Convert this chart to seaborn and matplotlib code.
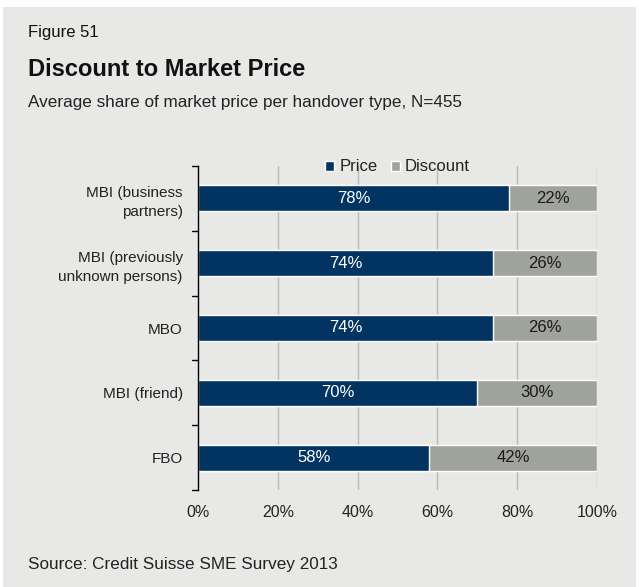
import matplotlib
matplotlib.use("Agg")
import matplotlib.pyplot as plt
import seaborn as sns
import pandas as pd
from matplotlib.patches import Rectangle, Patch

categories = ["MBI (business\npartners)", "MBI (previously\nunknown persons)", "MBO", "MBI (friend)", "FBO"]
price = [78, 74, 74, 70, 58]
discount = [22, 26, 26, 30, 42]
xticks = [0, 20, 40, 60, 80, 100]
xtick_labels = ["0%", "20%", "40%", "60%", "80%", "100%"]

NAVY = "#023461"
GREY = "#A0A39C"
BG = "#E8E9E6"

sns.set_theme(style="white")
plt.rcParams['font.family'] = ['Liberation Sans', 'DejaVu Sans']

df = pd.DataFrame({"cat": categories, "price": price, "discount": discount})
df["total"] = df["price"] + df["discount"]

fig = plt.figure(figsize=(6.39, 5.87), dpi=100)
fig.patch.set_facecolor("white")
fig.patches.append(Rectangle((3/639, 0), 633/639, 1 - 7/587, transform=fig.transFigure,
                             facecolor=BG, edgecolor="none", zorder=-10))

ax = fig.add_axes([198/639, 1 - 490/587, (597-198)/639, (490-166)/587])
ax.set_facecolor(BG)
ax.patch.set_alpha(0)

sns.barplot(data=df, y="cat", x="total", color=GREY, orient="h", width=0.4,
            ax=ax, saturation=1, zorder=3)
sns.barplot(data=df, y="cat", x="price", color=NAVY, orient="h", width=0.4,
            ax=ax, saturation=1, zorder=4)

for i, (p, d) in enumerate(zip(price, discount)):
    ax.text(p / 2, i, f"{p}%", ha="center", va="center", color="white", fontsize=12, zorder=5)
    ax.text(p + d / 2, i, f"{d}%", ha="center", va="center", color="#1a1a1a", fontsize=12, zorder=5)

ax.set_xlim(0, 100)
ax.set_ylim(4.5, -0.5)
ax.set_xticks(xticks)
ax.set_xticklabels(xtick_labels, fontsize=11.5, color="#222222")
ax.set_yticks(range(len(categories)))
ax.set_yticklabels(categories, fontsize=11, color="#222222", ha="right", multialignment="right",
                   linespacing=1.5)
ax.set_xlabel("")
ax.set_ylabel("")
ax.tick_params(axis="y", length=0, pad=11)
ax.tick_params(axis="x", length=0, pad=11)

# boundary tick marks on the y axis
for b in [-0.5, 0.5, 1.5, 2.5, 3.5, 4.5]:
    ax.plot([-1.5, 0], [b, b], color="black", lw=1, clip_on=False, zorder=6)

for x in xticks[1:]:
    ax.axvline(x, color="#B8BAB6", lw=1, zorder=1)

for s in ["top", "right", "bottom"]:
    ax.spines[s].set_visible(False)
ax.spines["left"].set_color("black")
ax.spines["left"].set_linewidth(1)
ax.spines["left"].set_zorder(6)

handles = [Patch(facecolor=NAVY, label="Price"), Patch(facecolor=GREY, label="Discount")]
leg = ax.legend(handles=handles, loc="center", bbox_to_anchor=(0.5, 0.997), ncol=2, frameon=False,
                fontsize=12, handlelength=0.55, handleheight=0.55, handletextpad=0.3, columnspacing=0.8,
                borderaxespad=0)
for t in leg.get_texts():
    t.set_color("#222222")

fig.text(28/639, 1 - 33/587, "Figure 51", fontsize=12, va="center", ha="left", color="#111111")
fig.text(28/639, 1 - 70/587, "Discount to Market Price", fontsize=17, fontweight="bold",
         va="center", ha="left", color="#111111")
fig.text(28/639, 1 - 103/587, "Average share of market price per handover type, N=455", fontsize=12.3,
         va="center", ha="left", color="#222222")
fig.text(28/639, 1 - 565/587, "Source: Credit Suisse SME Survey 2013", fontsize=12.3,
         va="center", ha="left", color="#222222")

fig.savefig("out.png", dpi=100, facecolor=fig.get_facecolor())
